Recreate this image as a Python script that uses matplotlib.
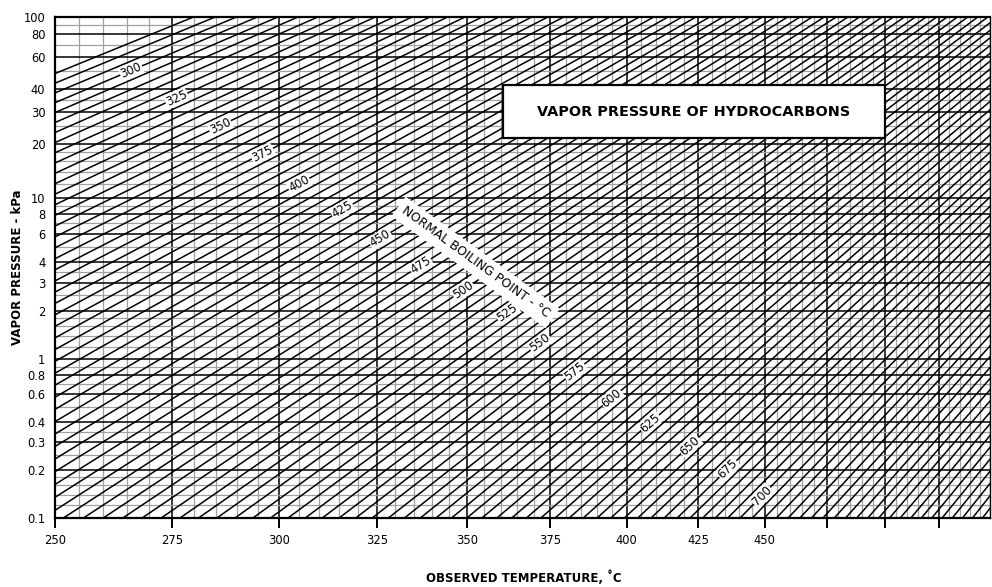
import numpy as np
import matplotlib
matplotlib.use("Agg")
import matplotlib.pyplot as plt
from matplotlib.patches import Rectangle

# heavy and light pressure grid lines, kPa
p_major = [0.1, 0.2, 0.3, 0.4, 0.6, 0.8, 1, 2, 3, 4, 6, 8, 10, 20, 30, 40, 60, 80, 100]
p_labels = ["0.1", "0.2", "0.3", "0.4", "0.6", "0.8", "1", "2", "3", "4", "6", "8",
            "10", "20", "30", "40", "60", "80", "100"]
p_minor = [0.12, 0.14, 0.16, 0.18, 0.25, 0.35, 0.5, 0.7, 0.9,
           1.2, 1.4, 1.6, 1.8, 2.5, 3.5, 5, 7, 9,
           12, 14, 16, 18, 25, 35, 50, 70, 90]

# temperature grid, deg C (550 is the right edge, no tick there)
t_major = [250, 275, 300, 325, 350, 375, 400, 425, 450, 475, 500, 525]
t_labels = ["250", "275", "300", "325", "350", "375", "400", "425", "450", "", "", ""]
t_minor = [t for t in range(250, 551, 5)]

# Maxwell-Bonnell parameter at each pressure decade
decade_p = [0.1, 1, 10, 100]
decade_a = [0.0023123, 0.0020092, 0.0017012, 0.0013536]

# normal boiling point lines, every 5 deg C
nbp = [t for t in range(285, 860, 5)]
label_nbp = [300, 325, 350, 375, 400, 425, 450, 475, 500, 525, 550, 575, 600, 625, 650, 675, 700]
label_at = [266, 276, 286, 296, 305, 316, 326, 337, 349, 362, 372, 383, 395, 408, 422, 436, 449]


def t_fwd(t):
    return -1.0 / (np.asarray(t, dtype=float) + 273.15)


def t_inv(v):
    v = np.asarray(v, dtype=float)
    with np.errstate(divide="ignore"):
        return -1.0 / v - 273.15


def p_to_a(p):
    p = np.maximum(np.asarray(p, dtype=float), 1e-9)
    return np.interp(np.log10(p), np.log10(decade_p), decade_a)


def p_fwd(p):
    return -p_to_a(p)


def p_inv(v):
    v = np.asarray(v, dtype=float)
    return 10 ** np.interp(v, -np.array(decade_a), np.log10(decade_p))


def temp_on_line(a, tb):
    k = 748.1 / (tb + 273.15) - 0.3861
    return 1.0 / (a * k + 0.00051606) - 273.15


fig = plt.figure(figsize=(9.92, 5.87), dpi=100)
ax = fig.add_axes([55 / 992, (587 - 517.7) / 587, 935 / 992, 501 / 587])
ax.set_xscale("function", functions=(t_fwd, t_inv))
ax.set_yscale("function", functions=(p_fwd, p_inv))
ax.set_xlim(250, 550)
ax.set_ylim(0.1, 100)

ax.set_xticks(t_major)
ax.set_xticklabels(t_labels, fontsize=8.3)
ax.set_xticks(t_minor, minor=True)
ax.set_yticks(p_major)
ax.set_yticklabels(p_labels, fontsize=8.3)
ax.set_yticks(p_minor, minor=True)
ax.tick_params(axis="x", which="major", length=7, width=1.4, direction="out", pad=5)
ax.tick_params(axis="y", which="major", length=0, pad=7)
ax.tick_params(which="minor", length=0)
ax.set_axisbelow(True)
ax.grid(which="minor", color="#a0a0a0", lw=0.9)
ax.grid(which="major", color="black", lw=1.1)
for s in ax.spines.values():
    s.set_linewidth(1.6)
ax.spines["right"].set_linewidth(1.0)

a_top, a_bot = p_to_a(100), p_to_a(0.1)
for tb in nbp:
    ax.plot([temp_on_line(a_top, tb), temp_on_line(a_bot, tb)], [100, 0.1],
            color="black", lw=1.1, zorder=2, solid_capstyle="butt")

for tb, t in zip(label_nbp, label_at):
    k = 748.1 / (tb + 273.15) - 0.3861
    a = (1.0 / (t + 273.15) - 0.00051606) / k
    p = p_inv(-a)
    p0 = ax.transData.transform((temp_on_line(a_top, tb), 100))
    p1 = ax.transData.transform((temp_on_line(a_bot, tb), 0.1))
    ang = np.degrees(np.arctan2(p0[1] - p1[1], p0[0] - p1[0]))
    ax.text(t, p, str(tb), fontsize=8.3, rotation=ang, rotation_mode="anchor",
            ha="center", va="center", zorder=4,
            bbox=dict(fc="white", ec="none", pad=0.6))

ax.text(352.6, 4.0, "NORMAL BOILING POINT - °C", fontsize=9, rotation=-36,
        rotation_mode="anchor", ha="center", va="center", zorder=4,
        bbox=dict(fc="white", ec="none", pad=4))

ax.add_patch(Rectangle((0.4788, 0.7573), 0.4089, 0.1064, transform=ax.transAxes,
                       fc="white", ec="black", lw=1.6, zorder=5))
ax.text(0.6833, 0.8105, "VAPOR PRESSURE OF HYDROCARBONS", transform=ax.transAxes,
        fontsize=10.4, fontweight="bold", ha="center", va="center", zorder=6)

fig.text(18 / 992, (587 - 267) / 587, "VAPOR PRESSURE - kPa", rotation=90,
         fontsize=8.5, fontweight="bold", ha="center", va="center")
fig.text(524 / 992, (587 - 578) / 587, "OBSERVED TEMPERATURE, ˚C",
         fontsize=8.5, fontweight="bold", ha="center", va="center")

fig.savefig("out.png", dpi=100)
